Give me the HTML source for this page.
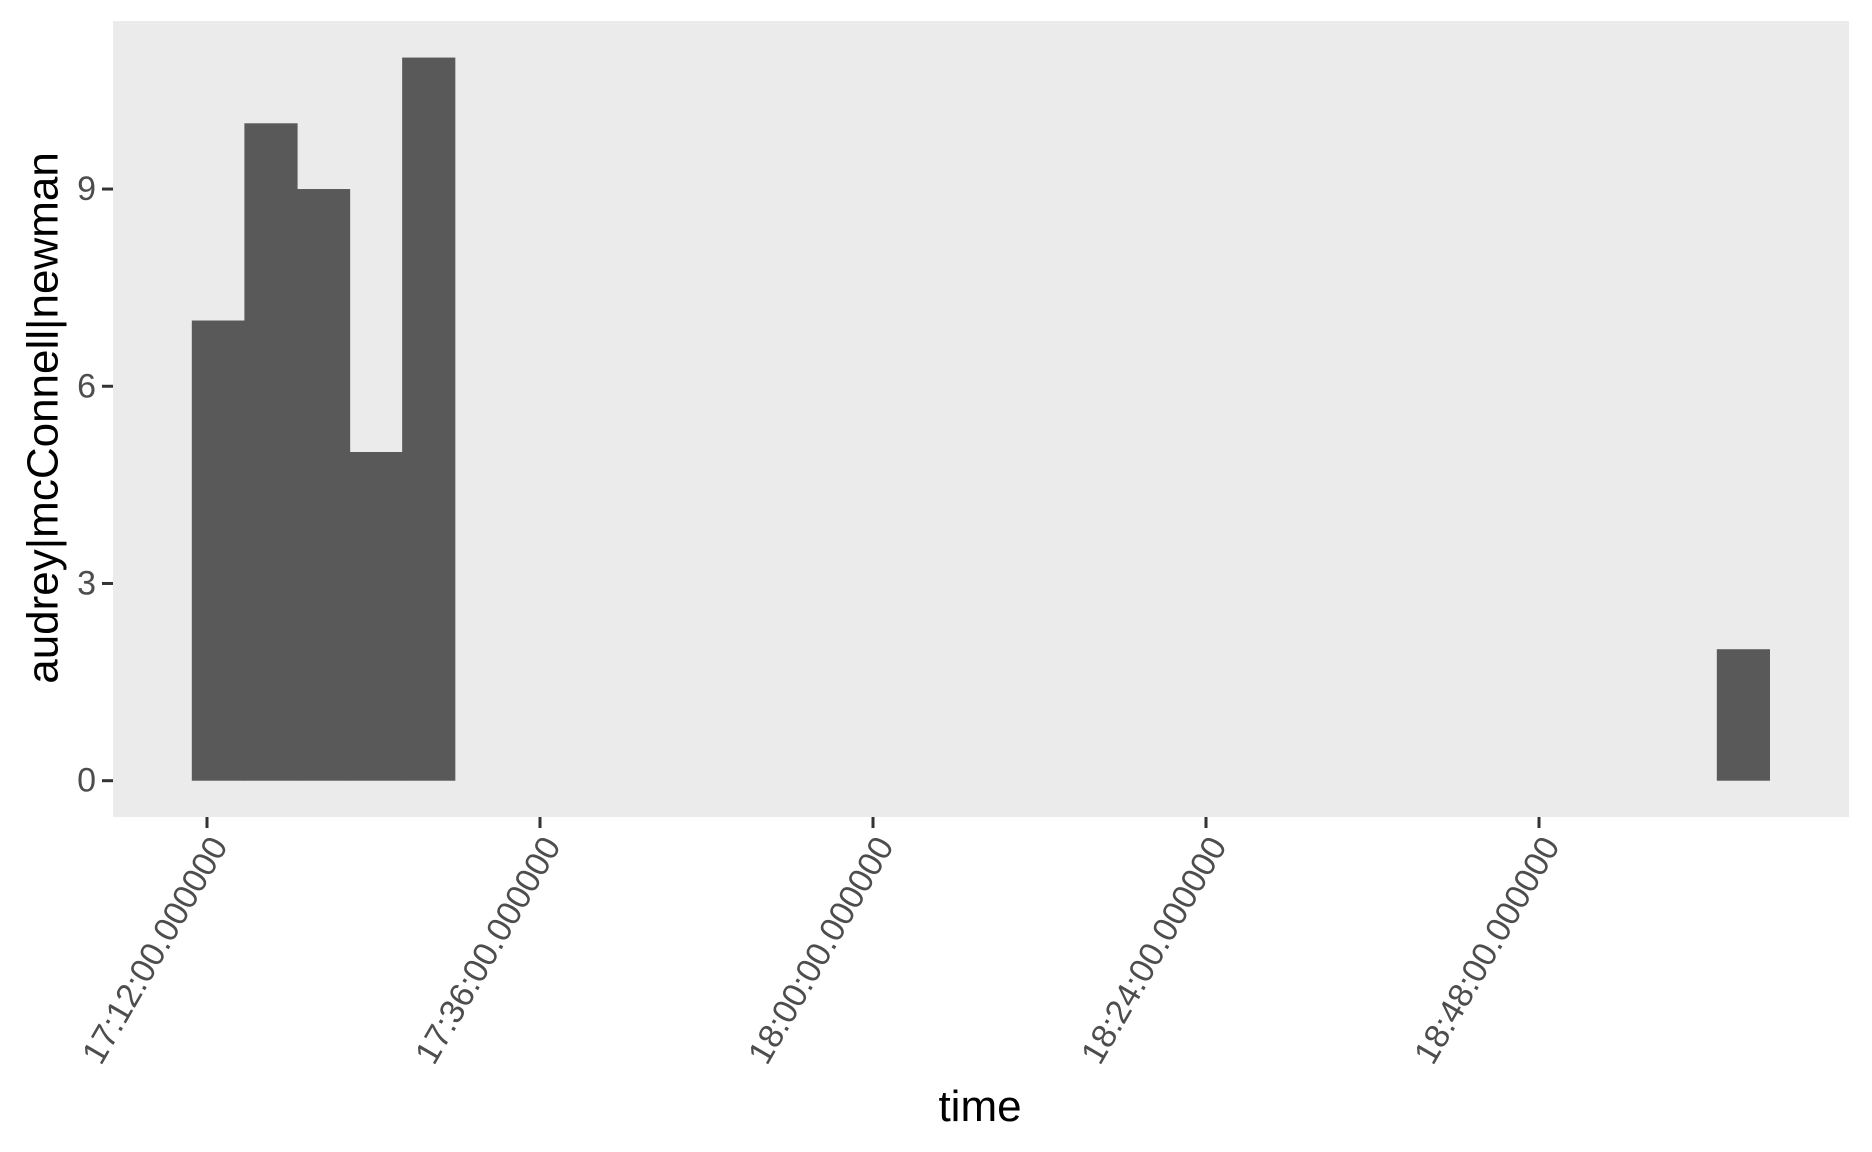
<!DOCTYPE html>
<html><head><meta charset="utf-8"><style>
html,body{margin:0;padding:0;background:#fff;}
svg{display:block;font-family:"Liberation Sans",Arial,sans-serif;}
</style></head><body>
<svg id="chart" width="1872" height="1152" viewBox="0 0 1872 1152">
<rect x="0" y="0" width="1872" height="1152" fill="#fff"/>
<rect x="113" y="21" width="1736" height="796" fill="#ebebeb"/>
<g id="bars"></g>
<g id="yaxis"></g>
<g id="xaxis"></g>
<text x="980" y="1121" font-size="44" text-anchor="middle" fill="#000">time</text>
<text transform="translate(43,418) rotate(-90)" font-size="44" text-anchor="middle" dominant-baseline="central" fill="#000">audrey|mcConnell|newman</text>
</svg>
<script>
const binIndex = [0, 1, 2, 3, 4, 29];
const binCounts = [7, 10, 9, 5, 11, 2];
const yTicks = [0, 3, 6, 9];
const xTickMinutes = [0, 24, 48, 72, 96];
const xTickLabels = ["17:12:00.000000", "17:36:00.000000", "18:00:00.000000", "18:24:00.000000", "18:48:00.000000"];
const binStart = -1.095, binWidth = 3.79;

const NS = "http://www.w3.org/2000/svg";
const xScale = m => 207 + m * 13.875;
const yScale = v => 780.7 - v * 65.74;
function mk(tag, attrs, parent) {
  const e = document.createElementNS(NS, tag);
  for (const k in attrs) e.setAttribute(k, attrs[k]);
  parent.appendChild(e);
  return e;
}
const gb = document.getElementById('bars');
binIndex.forEach((b, i) => {
  const x0 = xScale(binStart + b * binWidth), x1 = xScale(binStart + (b + 1) * binWidth);
  const r = mk('rect', {x: x0, y: yScale(binCounts[i]), width: x1 - x0 + 0.6, height: yScale(0) - yScale(binCounts[i]), fill: '#595959'}, gb);
  
  
});
const gy = document.getElementById('yaxis');
yTicks.forEach(v => {
  const y = yScale(v);
  const t = mk('line', {x1: 102, x2: 113, y1: y, y2: y, stroke: '#333', 'stroke-width': 3}, gy);
  
  
  const l = mk('text', {x: 96, y: y, 'font-size': 34, 'text-anchor': 'end', 'dominant-baseline': 'central', fill: '#4d4d4d'}, gy);
  l.textContent = v;
  
  
});
const gx = document.getElementById('xaxis');
xTickMinutes.forEach((m, i) => {
  const x = xScale(m);
  const t = mk('line', {x1: x, x2: x, y1: 817, y2: 828, stroke: '#333', 'stroke-width': 3}, gx);
  
  
  const l = mk('text', {transform: `translate(${x + 12},840) rotate(-60)`, 'font-size': 34, 'text-anchor': 'end', 'dominant-baseline': 'central', fill: '#4d4d4d'}, gx);
  l.textContent = xTickLabels[i];
  
  
});
</script>
</body></html>
